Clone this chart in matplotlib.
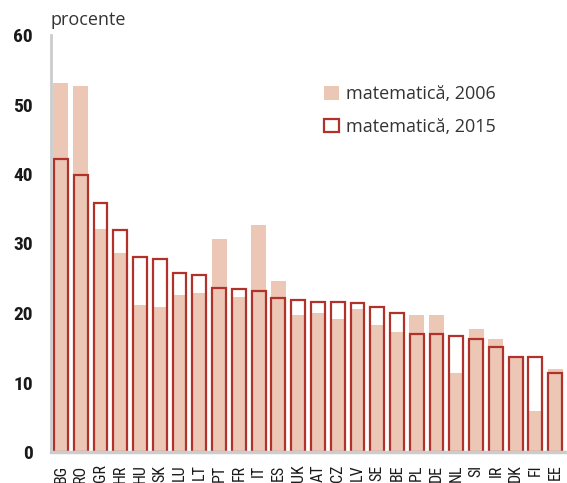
import matplotlib
matplotlib.use("Agg")
import matplotlib.pyplot as plt
from matplotlib.patches import Patch
from matplotlib import font_manager
import numpy as np

countries = ["BG", "RO", "GR", "HR", "HU", "SK", "LU", "LT", "PT", "FR", "IT", "ES", "UK",
             "AT", "CZ", "LV", "SE", "BE", "PL", "DE", "NL", "SI", "IR", "DK", "FI", "EE"]
math_2006 = [53.1, 52.6, 32.1, 28.7, 21.2, 20.9, 22.6, 22.9, 30.6, 22.3, 32.7, 24.6, 19.7,
             20.0, 19.1, 20.6, 18.3, 17.2, 19.7, 19.7, 11.4, 17.7, 16.3, 13.6, 5.9, 11.9]
math_2015 = [42.1, 39.8, 35.8, 32.0, 28.0, 27.7, 25.7, 25.4, 23.6, 23.4, 23.1, 22.2, 21.9,
             21.6, 21.6, 21.4, 20.8, 20.0, 17.0, 17.0, 16.7, 16.2, 15.1, 13.6, 13.6, 11.3]
yticks = [0, 10, 20, 30, 40, 50, 60]

fill_col = "#ecc7b6"
edge_col = "#b0322a"
grey = "#cbcccd"

# look for a condensed face, fall back to plain DejaVu Sans
names = {f.name for f in font_manager.fontManager.ttflist}
narrow_name = "DejaVu Sans"
for n in ["Liberation Sans Narrow", "DejaVu Sans Condensed", "Roboto Condensed", "Open Sans Condensed"]:
    if n in names:
        narrow_name = n
        break

fig = plt.figure(figsize=(5.67, 4.83), dpi=100)
ax = fig.add_axes([51 / 567, 1 - 452 / 483, 1 - 51 / 567, (452 - 35) / 483])

x = np.arange(len(countries))
ax.bar(x, math_2006, width=0.76, color=fill_col, edgecolor="none", zorder=1)
ax.bar(x, math_2015, width=0.7, facecolor="none", edgecolor=edge_col, linewidth=1.6, zorder=2)

ax.set_xlim(-0.5, 25.6)
ax.set_ylim(0, 60)
ax.set_yticks(yticks)
ax.set_yticklabels([str(t) for t in yticks],
                   fontproperties=font_manager.FontProperties(family=narrow_name, stretch="condensed",
                                                              weight="semibold", size=14),
                   color="#1a1a1a")
ax.set_xticks(x)
ax.set_xticklabels(countries, rotation=90,
                   fontproperties=font_manager.FontProperties(family=narrow_name, stretch="condensed",
                                                              size=11.5),
                   color="#1a1a1a")
ax.tick_params(axis="both", length=0)
ax.tick_params(axis="y", pad=13)
ax.tick_params(axis="x", pad=9)

for s in ["top", "right"]:
    ax.spines[s].set_visible(False)
ax.spines["left"].set_color(grey)
ax.spines["left"].set_linewidth(2)
ax.spines["bottom"].set_color(grey)
ax.spines["bottom"].set_linewidth(2.5)

fig.text(50 / 567, 1 - 20 / 483, "procente", fontsize=13, color="#333333",
         family=["Open Sans", "DejaVu Sans"], va="center", ha="left")

handles = [Patch(facecolor=fill_col, edgecolor="none"),
           Patch(facecolor="white", edgecolor=edge_col, linewidth=1.6)]
ax.legend(handles, ["matematică, 2006", "matematică, 2015"], loc="upper left",
          bbox_to_anchor=(308 / 567, 1 - 69 / 483), bbox_transform=fig.transFigure,
          frameon=False, prop={"family": ["Open Sans", "DejaVu Sans"], "size": 13},
          handlelength=0.8, handleheight=0.8, handletextpad=0.4, labelspacing=0.8,
          labelcolor="#333333")

fig.savefig("out.png", dpi=100)
